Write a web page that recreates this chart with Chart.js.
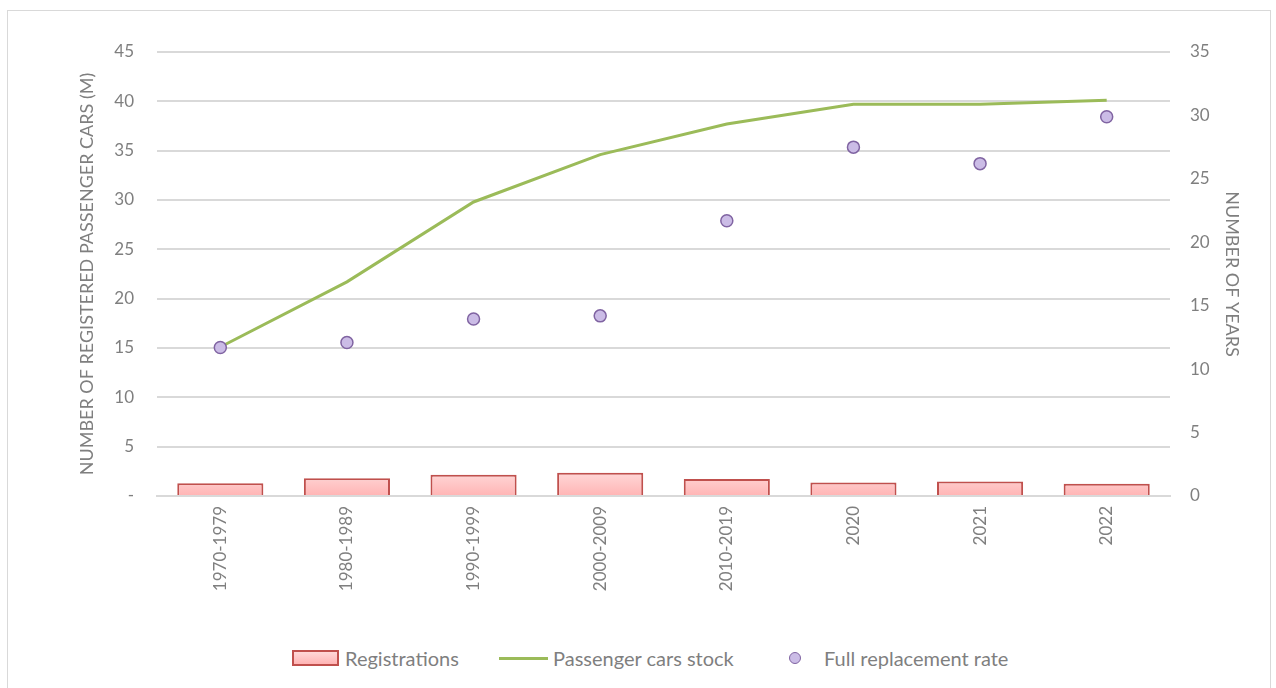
<!DOCTYPE html>
<html>
<head>
<meta charset="utf-8">
<script src="https://cdn.jsdelivr.net/npm/chart.js@4.4.1/dist/chart.umd.min.js"></script>
<style>
  html, body { margin:0; padding:0; background:#fff; }
  body { width:1276px; height:688px; position:relative; overflow:hidden; font-family:Lato, "Open Sans", sans-serif; }
  #frame { position:absolute; left:7px; top:10px; width:1264px; height:700px; border:1px solid #d9d9d9; box-sizing:border-box; }
  #wrap { position:absolute; left:0; top:0; width:1276px; height:620px; }
  #legend { position:absolute; top:646px; left:0; width:1276px; height:24px; font-size:20px; color:#7f7f7f; }
  .item { position:absolute; top:0; display:flex; align-items:center; height:24px; white-space:nowrap; }
  .sw-bar { width:43px; height:12px; background:linear-gradient(#ffd8d8,#ffb4b4); border:2px solid #c0504d; margin-right:6px; }
  .sw-line { width:49px; height:3px; background:#9bbb59; margin-right:5px; }
  .sw-dot { width:10px; height:10px; border-radius:50%; background:#cbbce6; border:1.5px solid #8064a2; }
</style>
</head>
<body>
<div id="frame"></div>
<div id="wrap"><canvas id="c" width="1276" height="620"></canvas></div>
<div id="legend">
  <div class="item" style="left:292px"><span class="sw-bar"></span>Registrations</div>
  <div class="item" style="left:499px"><span class="sw-line"></span>Passenger cars stock</div>
  <div class="item" style="left:789px"><span class="sw-dot"></span><span style="margin-left:23px">Full replacement rate</span></div>
</div>
<script>
// categories and values
const periods = ["1970-1979","1980-1989","1990-1999","2000-2009","2010-2019","2020","2021","2022"];
const registrations = [1.3, 1.8, 2.15, 2.35, 1.72, 1.37, 1.47, 1.23];   // M cars / year
const carStock = [15.1, 21.7, 29.8, 34.6, 37.7, 39.7, 39.7, 40.1];      // M cars
const replacementYears = [11.7, 12.1, 13.95, 14.2, 21.7, 27.5, 26.2, 29.9]; // years

const leftTicks = [0,5,10,15,20,25,30,35,40,45];
const rightTicks = [0,5,10,15,20,25,30,35];

const grey = "#7f7f7f";
const gridCol = "#d9d9d9";
const tickFont = { family:"Lato, 'Open Sans', sans-serif", size:17 };
const titleFont = { family:"Lato, 'Open Sans', sans-serif", size:18 };

// soft pink fill, lighter at the top of the bars
function barFill(ctx){
  const area = ctx.chart.chartArea;
  if(!area) return "#ffc0c0";
  const g = ctx.chart.ctx.createLinearGradient(0, area.bottom - 24, 0, area.bottom);
  g.addColorStop(0, "#ffd8d8");
  g.addColorStop(1, "#ffb4b4");
  return g;
}

new Chart(document.getElementById("c"), {
  data: {
    labels: periods,
    datasets: [
      {
        type:"scatter", label:"Full replacement rate", data: replacementYears,
        yAxisID:"yR", showLine:false,
        pointRadius:6, pointBackgroundColor:"#cbbce6", pointBorderColor:"#8064a2", pointBorderWidth:1.5,
        order:0
      },
      {
        type:"line", label:"Passenger cars stock", data: carStock,
        yAxisID:"yL", borderColor:"#9bbb59", borderWidth:3, pointRadius:0, tension:0,
        order:1
      },
      {
        type:"bar", label:"Registrations", data: registrations,
        yAxisID:"yL", backgroundColor:barFill, borderColor:"#c0504d", borderWidth:2,
        categoryPercentage:1, barPercentage:0.68,
        order:2
      }
    ]
  },
  options: {
    responsive:false, animation:false,
    layout:{ padding:{ top:52, left:76, right:33, bottom:0 } },
    plugins:{ legend:{ display:false }, tooltip:{ enabled:false } },
    scales:{
      x:{
        type:"category", offset:true,
        afterFit:(s)=>{ s.height = 124; },
        grid:{ display:false, drawTicks:false },
        border:{ color:gridCol, width:2 },
        ticks:{ color:grey, font:tickFont, maxRotation:90, minRotation:90, padding:10 }
      },
      yL:{
        position:"left", min:0, max:45,
        afterBuildTicks:(s)=>{ s.ticks = leftTicks.map(v=>({value:v})); },
        afterFit:(s)=>{ s.width = 81; },
        grid:{ color:gridCol, lineWidth:2, drawTicks:false },
        border:{ display:false },
        ticks:{ color:grey, font:tickFont, padding:23, callback:(v)=> v===0 ? "-" : v },
        title:{ display:true, text:"NUMBER OF REGISTERED PASSENGER CARS (M)", color:grey, font:titleFont, padding:{top:0,bottom:0} }
      },
      yR:{
        position:"right", min:0, max:35,
        afterBuildTicks:(s)=>{ s.ticks = rightTicks.map(v=>({value:v})); },
        afterFit:(s)=>{ s.width = 73; },
        grid:{ display:false, drawTicks:false },
        border:{ display:false },
        ticks:{ color:grey, font:tickFont, padding:20 },
        title:{ display:true, text:"NUMBER OF YEARS", color:grey, font:titleFont, padding:{top:0,bottom:0} }
      }
    }
  }
});
</script>
</body>
</html>
